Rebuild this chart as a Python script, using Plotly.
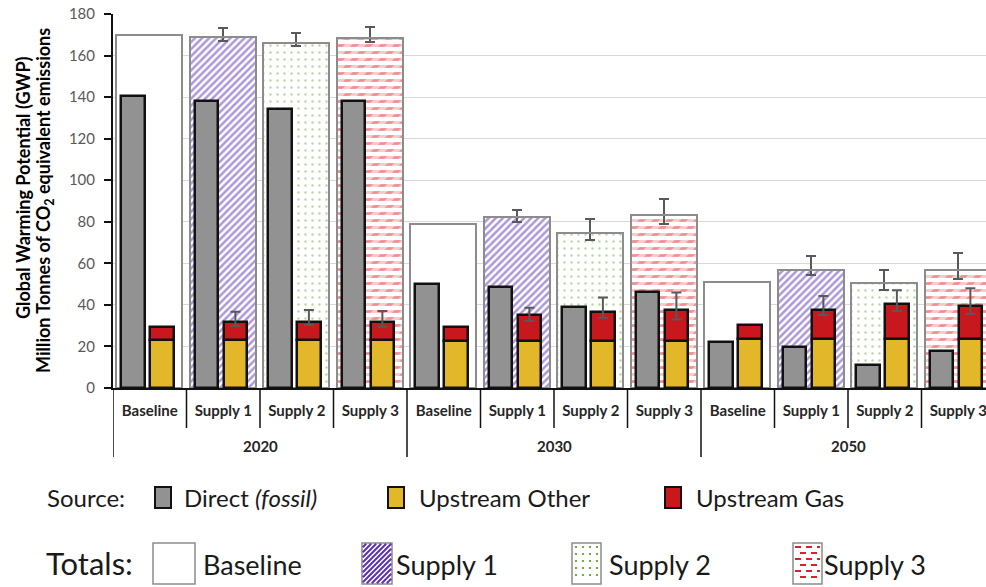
import plotly.graph_objects as go

# ---- data -------------------------------------------------------------
years = ["2020", "2030", "2050"]
scenarios = ["Baseline", "Supply 1", "Supply 2", "Supply 3"]

# one value per bar group, ordered year by year, scenario within year
direct_fossil = [140.5, 138, 134.5, 138, 50, 48.5, 39, 46, 22, 19.5, 11, 18]
upstream_other = [23, 23, 23, 23, 22.7, 22.7, 22.7, 22.7, 23.5, 23.5, 23.5, 23.5]
upstream_gas = [6.5, 9, 9, 9, 6.8, 12.3, 14, 14.8, 6.7, 14, 17, 16]
upstream_gas_err_plus = [None, 4.7, 5.5, 5, None, 3.6, 6.8, 8.5, None, 6.8, 6.6, 8.5]
upstream_gas_err_minus = [None, 2.2, 1.7, 2.5, None, 2.8, 2.9, 4.5, None, 2.4, 3.4, 3.9]
total_gwp = [170, 169, 166, 168.5, 79, 82.5, 74.5, 83.5, 51, 57, 50.5, 57]
total_err_plus = [None, 4.4, 4.8, 5.3, None, 3.3, 6.8, 7.7, None, 6.6, 6.4, 8]
total_err_minus = [None, 2.1, 1.6, 1.9, None, 2.8, 3.1, 4.8, None, 2.8, 3.1, 4.3]

y_ticks = [0, 20, 40, 60, 80, 100, 120, 140, 160, 180]

# ---- layout helpers ---------------------------------------------------
FONT = "Lato"
L, T, W, H = 113, 14, 873, 374          # plot area in pixels
CAT_PX = 73.5                            # width of one category slot

GRAY, YELLOW, RED = "#929292", "#E3B72A", "#C9171E"
PURPLE, GREEN, DASH_RED = "#5A32B4", "#6FAD42", "#E01F27"
ERR = dict(color="#595959", thickness=2, width=5)


def px(x):
    return (x - L) / W


def py(y):
    return (T + H - y) / H


n_s = len(scenarios)
pos = list(range(len(years) * n_s))
inner_labels = [s for _ in years for s in scenarios]


def idx(k):
    return [i for i in pos if i % n_s == k]


def sel(values, ids):
    return [values[i] for i in ids]


supply_ids = [i for i in pos if i % n_s != 0]
base_ids = idx(0)

fig = go.Figure()

# totals: patterned fill per scenario
total_styles = {
    "Baseline": dict(color="white"),
    "Supply 1": dict(color="white", pattern=dict(shape="/", fgcolor=PURPLE, bgcolor="white",
                                                  size=5, solidity=0.5, fillmode="overlay")),
    "Supply 2": dict(color="white", pattern=dict(shape=".", fgcolor=GREEN, bgcolor="white",
                                                  size=7, solidity=0.09, fillmode="overlay")),
    "Supply 3": dict(color="white", pattern=dict(shape="-", fgcolor=DASH_RED, bgcolor="white",
                                                  size=7, solidity=0.4, fillmode="overlay")),
}
for k, s in enumerate(scenarios):
    ids = idx(k)
    err = None
    if 0 < k < 3:
        err = dict(type="data", array=sel(total_err_plus, ids), arrayminus=sel(total_err_minus, ids),
                   symmetric=False, **ERR)
    fig.add_trace(go.Bar(
        x=ids, y=sel(total_gwp, ids), offset=-0.455, width=0.9,
        marker=dict(line=dict(width=0), **total_styles[s]),
        error_y=err, showlegend=False, hoverinfo="skip", name=s,
    ))

# slanted white breaks turn the Supply 3 lines into staggered dashes
ids3 = idx(3)
fig.add_trace(go.Bar(
    x=ids3, y=sel(total_gwp, ids3), offset=-0.455, width=0.9,
    marker=dict(color="rgba(0,0,0,0)", line=dict(width=0),
                pattern=dict(shape="/", fgcolor="white", bgcolor="rgba(0,0,0,0)",
                             size=14 / 2 ** 0.5, solidity=0.52, fillmode="overlay")),
    error_y=dict(type="data", array=sel(total_err_plus, ids3), arrayminus=sel(total_err_minus, ids3),
                 symmetric=False, **ERR),
    showlegend=False, hoverinfo="skip",
))

# totals outline
fig.add_trace(go.Bar(
    x=pos, y=total_gwp, offset=-0.455, width=0.9,
    marker=dict(color="rgba(0,0,0,0)", line=dict(color="#8C8C8C", width=2)),
    showlegend=False, hoverinfo="skip",
))

# source breakdown
OUT = dict(color="#111111", width=2.5)
fig.add_trace(go.Bar(
    x=pos, y=direct_fossil, offset=-0.385, width=0.315,
    marker=dict(color=GRAY, line=OUT), showlegend=False, name="Direct (fossil)",
))
fig.add_trace(go.Bar(
    x=pos, y=upstream_other, offset=0.005, width=0.32,
    marker=dict(color=YELLOW, line=OUT), showlegend=False, name="Upstream Other",
))
fig.add_trace(go.Bar(
    x=base_ids, y=sel(upstream_gas, base_ids), base=sel(upstream_other, base_ids),
    offset=0.005, width=0.32,
    marker=dict(color=RED, line=OUT), showlegend=False, name="Upstream Gas",
))
fig.add_trace(go.Bar(
    x=supply_ids, y=sel(upstream_gas, supply_ids), base=sel(upstream_other, supply_ids),
    offset=0.005, width=0.32,
    marker=dict(color=RED, line=OUT),
    error_y=dict(type="data", array=sel(upstream_gas_err_plus, supply_ids),
                 arrayminus=sel(upstream_gas_err_minus, supply_ids), symmetric=False, **ERR),
    showlegend=False, name="Upstream Gas",
))

shapes = []
annotations = []

# category dividers below the axis
for i in range(len(pos) + 1):
    b = i - 0.5
    outer = (i % n_s == 0)
    shapes.append(dict(type="line", xref="x", yref="paper", x0=b, x1=b,
                       y0=0, y1=py(457 if outer else 428),
                       line=dict(color="#111111", width=1.5)))

# year labels (second level)
for j, yr in enumerate(years):
    annotations.append(dict(xref="x", yref="paper", x=j * n_s + (n_s - 1) / 2, y=py(446),
                            text=yr, showarrow=False, xanchor="center", yanchor="middle",
                            font=dict(family=FONT, size=15, color="#262626", weight="bold")))

# axis title
annotations.append(dict(xref="paper", yref="paper", x=px(23), y=py(188), textangle=-90,
                        text="Global Warming Potential (GWP)", showarrow=False,
                        xanchor="center", yanchor="middle",
                        font=dict(family=FONT, size=18, color="#000000", weight="bold")))
annotations.append(dict(xref="paper", yref="paper", x=px(44), y=py(201), textangle=-90,
                        text="Million Tonnes of CO<sub>2</sub> equivalent emissions", showarrow=False,
                        xanchor="center", yanchor="middle",
                        font=dict(family=FONT, size=18, color="#000000", weight="bold")))


# ---- key ----
def text(x, y, s, size):
    annotations.append(dict(xref="paper", yref="paper", x=px(x), y=py(y), text=s,
                            showarrow=False, xanchor="left", yanchor="middle",
                            font=dict(family=FONT, size=size, color="#1A1A1A")))


def box(x0, x1, y0, y1, fill, line_color, lw):
    shapes.append(dict(type="rect", xref="paper", yref="paper",
                       x0=px(x0), x1=px(x1), y0=py(y1), y1=py(y0),
                       fillcolor=fill, line=dict(color=line_color, width=lw)))


text(45, 497, "Source:", 24)
for x0, color, label, tx in [(155, GRAY, "Direct <i>(fossil)</i>", 182),
                             (388, YELLOW, "Upstream Other", 417),
                             (665, RED, "Upstream Gas", 694)]:
    box(x0, x0 + 16, 487, 508, color, "#111111", 2)
    text(tx, 497, label, 24)

text(44, 563, "Totals:", 31)
BY0, BY1 = 543, 584
box(153, 195, BY0, BY1, "white", "#8C8C8C", 1.5)
text(201, 564, "Baseline", 27)

# Supply 1 swatch: diagonal hatch
sx0, sx1 = 362, 392
box(sx0, sx1, BY0, BY1, "white", "#8C8C8C", 1.5)
c = sx0 - (BY1 - BY0)
while c < sx1:
    xa, ya = c, BY1
    xb, yb = c + (BY1 - BY0), BY0
    if xa < sx0:
        ya -= sx0 - xa
        xa = sx0
    if xb > sx1:
        yb += xb - sx1
        xb = sx1
    if xb > xa + 1:
        shapes.append(dict(type="line", xref="paper", yref="paper",
                           x0=px(xa + 0.8), y0=py(ya - 0.8), x1=px(xb - 0.8), y1=py(yb + 0.8),
                           line=dict(color=PURPLE, width=2)))
    c += 5
text(394, 564, "Supply 1", 27)

# Supply 2 swatch: dots
sx0, sx1 = 572, 601
box(sx0, sx1, BY0, BY1, "white", "#8C8C8C", 1.5)
yy = BY0 + 4
while yy < BY1 - 2:
    xx = sx0 + 4
    while xx < sx1 - 2:
        shapes.append(dict(type="rect", xref="paper", yref="paper",
                           x0=px(xx - 1), x1=px(xx + 1), y0=py(yy + 1), y1=py(yy - 1),
                           fillcolor=GREEN, line=dict(width=0)))
        xx += 7
    yy += 7
text(607, 564, "Supply 2", 27)

# Supply 3 swatch: staggered dashes
sx0, sx1 = 793, 822
box(sx0, sx1, BY0, BY1, "white", "#8C8C8C", 1.5)
row = 0
yy = BY0 + 4
while yy < BY1 - 2:
    xx = sx0 + 2 + (5 if row % 2 else 0)
    while xx < sx1 - 2:
        shapes.append(dict(type="line", xref="paper", yref="paper",
                           x0=px(xx), x1=px(min(xx + 6, sx1 - 2)), y0=py(yy), y1=py(yy),
                           line=dict(color=DASH_RED, width=2)))
        xx += 11
    yy += 6
    row += 1
text(822, 564, "Supply 3", 27)

fig.update_layout(
    width=986, height=587,
    margin=dict(l=L, r=986 - L - W, t=T, b=587 - T - H, pad=0),
    paper_bgcolor="white", plot_bgcolor="white",
    barmode="overlay", bargap=0,
    showlegend=False,
    xaxis=dict(range=[-0.5, -0.5 + W / CAT_PX], tickmode="array", tickvals=pos, ticktext=inner_labels,
               ticks="", showgrid=False, zeroline=False, showline=True, linecolor="#111111", linewidth=2,
               tickfont=dict(family=FONT, size=15, color="#262626", weight="bold"),
               ticklabelstandoff=8, ticklabeloverflow="allow", fixedrange=True),
    yaxis=dict(range=[0, 180], tickmode="array", tickvals=y_ticks, ticks="outside", ticklen=7,
               tickwidth=1.5, tickcolor="#111111", showline=True, linecolor="#111111", linewidth=2,
               showgrid=True, gridcolor="#D9D9D9", gridwidth=1.2, zeroline=False,
               tickfont=dict(family=FONT, size=15, color="#595959"), ticklabelstandoff=6,
               fixedrange=True),
    shapes=shapes,
    annotations=annotations,
)

fig.write_html("out.html")
